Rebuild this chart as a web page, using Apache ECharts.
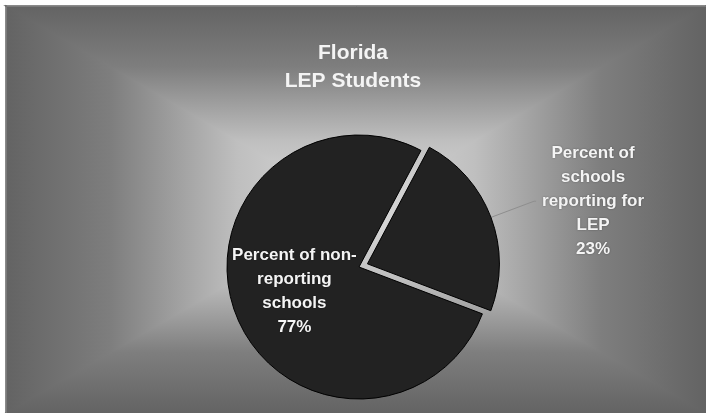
<!DOCTYPE html>
<html>
<head>
<meta charset="utf-8">
<script src="https://cdn.jsdelivr.net/npm/echarts@6/dist/echarts.min.js"></script>
<style>
  html, body { margin: 0; padding: 0; background: #fff; }
  #main { width: 706px; height: 413px; }
</style>
</head>
<body>
<div id="main"></div>
<script>
var titleText = 'Florida\nLEP Students';
var categories = ['Percent of schools reporting for LEP', 'Percent of non-reporting schools'];
var values = [23, 77];
// how each label is broken over lines in the picture
var labelLines = [
    ['Percent of', 'schools', 'reporting for', 'LEP'],
    ['Percent of non-', 'reporting', 'schools']
];

var myChart = echarts.init(document.getElementById('main'));

// rectangular "from center" background gradient, drawn as four wedges
var L = 6, T = 6, R = 706, B = 413, CX = 356, CY = 210;
var stops = [
    {offset: 0, color: '#636363'},
    {offset: 0.3, color: '#7e7e7e'},
    {offset: 0.66, color: '#bfbfbf'},
    {offset: 1, color: '#dcdcdc'}
];
function wedge(points, x, y, x2, y2) {
    var grad = new echarts.graphic.LinearGradient(x, y, x2, y2, stops);
    return {
        type: 'polygon',
        silent: true,
        z: -10,
        shape: {points: points},
        style: {fill: grad, stroke: grad, lineWidth: 1.5}
    };
}

var data = [];
for (var i = 0; i < categories.length; i++) {
    data.push({name: categories[i], value: values[i]});
}
data[0].selected = true;

var labelText = {
    color: '#f4f4f4',
    fontFamily: 'Liberation Sans, Arial, sans-serif',
    fontWeight: 'bold',
    fontSize: 17,
    lineHeight: 24,
    textShadowColor: 'rgba(0,0,0,0.35)',
    textShadowBlur: 2
};

option = {
    animation: false,
    backgroundColor: '#ffffff',
    graphic: [
        {
            type: 'rect',
            silent: true,
            z: -11,
            shape: {x: L, y: T, width: R - L, height: B - T},
            style: {fill: '#a0a0a0'}
        },
        wedge([[L, T], [R, T], [CX, CY]], 0, 0, 0, 1),
        wedge([[L, B], [R, B], [CX, CY]], 0, 1, 0, 0),
        wedge([[L, T], [L, B], [CX, CY]], 0, 0, 1, 0),
        wedge([[R, T], [R, B], [CX, CY]], 1, 0, 0, 0),
        {
            type: 'rect',
            silent: true,
            z: -9,
            shape: {x: L + 0.5, y: T + 0.5, width: R - L, height: B - T},
            style: {fill: null, stroke: '#7a7a7a', lineWidth: 1}
        }
    ],
    title: {
        text: titleText,
        left: 'center',
        top: 39,
        padding: 0,
        textStyle: {
            color: '#f4f4f4',
            fontFamily: 'Liberation Sans, Arial, sans-serif',
            fontWeight: 'bold',
            fontSize: 21,
            lineHeight: 28
        }
    },
    series: [
        {
            type: 'pie',
            center: [359, 267],
            radius: 132,
            startAngle: 62,
            clockwise: true,
            selectedMode: 'single',
            selectedOffset: 9,
            avoidLabelOverlap: false,
            emphasis: {disabled: true},
            itemStyle: {color: '#222222', borderColor: '#000000', borderWidth: 1},
            select: {
                itemStyle: {color: '#222222', borderColor: '#000000', borderWidth: 1}
            },
            labelLine: {
                length: 46,
                length2: 2,
                lineStyle: {color: '#8e8e8e', width: 1}
            },
            label: {
                position: 'outside',
                distanceToLabelLine: 2,
                formatter: function (p) {
                    var lines = labelLines[p.dataIndex].concat([Math.round(p.percent) + '%']);
                    return lines.map(function (s) { return '{a|' + s + '}'; }).join('\n');
                },
                rich: {
                    a: echarts.util.extend({width: 110, align: 'center'}, labelText)
                }
            },
            data: data.map(function (d, idx) {
                if (idx === 1) {
                    d.label = {
                        position: 'inside',
                        formatter: function (p) {
                            return labelLines[1].concat([Math.round(p.percent) + '%']).join('\n');
                        },
                        rich: {},
                        color: labelText.color,
                        fontFamily: labelText.fontFamily,
                        fontWeight: 'bold',
                        fontSize: 17,
                        lineHeight: 24,
                        textShadowColor: labelText.textShadowColor,
                        textShadowBlur: 2
                    };
                }
                return d;
            })
        }
    ]
};

myChart.setOption(option);
window.addEventListener('resize', function () {
    myChart.resize();
});
</script>
</body>
</html>
